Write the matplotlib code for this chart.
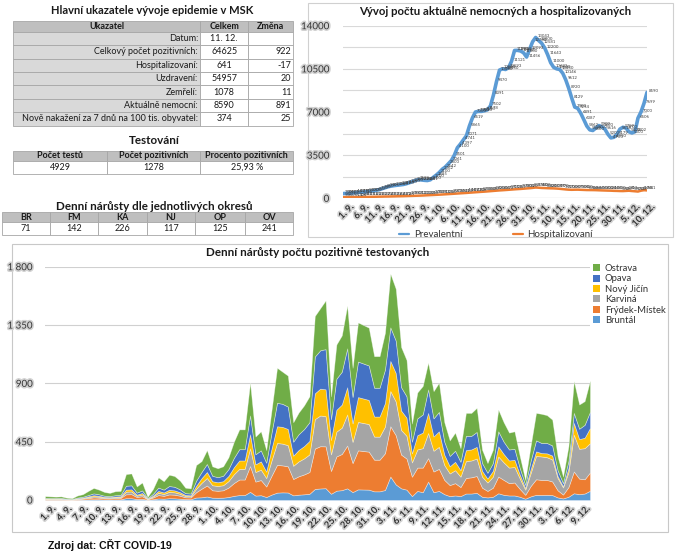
import datetime as dt
import matplotlib
matplotlib.use("Agg")
import matplotlib.pyplot as plt
import matplotlib.patheffects as pe
import matplotlib.transforms as mtransforms
from matplotlib.patches import Rectangle

FONT = ["Lato", "DejaVu Sans"]
plt.rcParams["font.family"] = FONT

# ---------------- data ----------------
main_title = "Hlavní ukazatele vývoje epidemie v MSK"
main_header = ["Ukazatel", "Celkem", "Změna"]
main_labels = ["Datum:", "Celkový počet pozitivních:", "Hospitalizovaní:", "Uzdravení:",
               "Zemřelí:", "Aktuálně nemocní:", "Nově nakažení za 7 dnů na 100 tis. obyvatel:"]
main_total = ["11. 12.", "64625", "641", "54957", "1078", "8590", "374"]
main_change = ["", "922", "-17", "20", "11", "891", "25"]

test_title = "Testování"
test_header = ["Počet testů", "Počet pozitivních", "Procento pozitivních"]
test_values = ["4929", "1278", "25,93 %"]

district_title = "Denní nárůsty dle jednotlivých okresů"
district_codes = ["BR", "FM", "KA", "NJ", "OP", "OV"]
district_values = ["71", "142", "226", "117", "125", "241"]

start_date = dt.date(2020, 9, 1)
n_days = 102
dates = [start_date + dt.timedelta(days=i) for i in range(n_days)]
date_labels = [f"{d.day}. {d.month}." for d in dates]

prevalent = [380, 398, 410, 430, 450, 477, 490, 510, 540, 570,
             600, 650, 700, 780, 860, 940, 990, 1030, 1060, 1089,
             1120, 1180, 1260, 1350, 1440, 1513, 1490, 1460, 1441, 1500,
             1700, 1885, 2100, 2362, 2542, 2800, 3061, 3501, 4100, 4397,
             4741, 5071, 5865, 6519, 7000, 7050, 7050, 7100, 7178, 7502,
             8391, 9470, 10400, 10500, 10450, 10593, 11121, 11993, 12000, 11950,
             11800, 11456, 12093, 12700, 13043, 12800, 12581, 12200, 11643, 11000,
             10621, 10500, 10450, 10146, 9612, 8920, 8129, 7400, 7294, 6891,
             6387, 5862, 5550, 5500, 5700, 5900, 5800, 5616, 5200, 4900,
             4950, 5179, 5614, 5759, 5700, 5400, 5300, 5402, 6506, 7000,
             7699, 8590]
hospitalized = [95, 96, 97, 99, 100, 104, 108, 110, 115, 118,
                123, 128, 133, 137, 144, 145, 153, 156, 164, 168,
                173, 181, 189, 196, 205, 212, 222, 232, 245, 258,
                270, 283, 295, 310, 325, 340, 356, 372, 389, 405,
                420, 436, 455, 472, 490, 508, 525, 540, 560, 580,
                600, 620, 640, 655, 672, 690, 710, 728, 745, 760,
                780, 801, 820, 845, 874, 860, 838, 830, 820, 810,
                804, 790, 770, 745, 720, 700, 690, 697, 700, 690,
                680, 670, 668, 666, 660, 650, 640, 632, 624, 618,
                605, 600, 590, 586, 600, 613, 590, 570, 548, 617,
                658, 641]

district_names = ["Bruntál", "Frýdek-Místek", "Karviná", "Nový Jičín", "Opava", "Ostrava"]
bruntal = [2, 2, 2, 2, 1, 1, 2, 3, 5, 6, 6, 4, 4, 5, 5, 14, 14, 7, 9, 2,
           6, 12, 10, 14, 13, 10, 7, 6, 19, 21, 27, 18, 17, 18, 23, 32, 38, 38, 63, 34,
           37, 23, 42, 57, 59, 58, 36, 41, 44, 48, 85, 89, 91, 48, 72, 76, 90, 61, 82, 81,
           80, 67, 67, 77, 181, 120, 90, 80, 30, 70, 60, 142, 60, 70, 45, 30, 35, 30, 50, 50,
           55, 25, 20, 25, 52, 40, 35, 35, 25, 10, 28, 40, 39, 40, 38, 20, 12, 25, 52, 45,
           50, 71]
frydek = [5, 4, 4, 4, 3, 2, 5, 7, 10, 14, 12, 9, 8, 10, 11, 30, 31, 16, 20, 4,
          13, 26, 22, 29, 28, 23, 14, 14, 41, 66, 85, 57, 54, 57, 73, 99, 120, 120, 199, 108,
          117, 81, 147, 214, 208, 202, 126, 142, 153, 168, 312, 326, 323, 176, 264, 279, 330, 224, 301, 297,
          293, 244, 244, 284, 388, 380, 260, 240, 150, 180, 190, 181, 160, 170, 110, 85, 95, 70, 120, 125,
          130, 70, 50, 70, 129, 115, 95, 100, 60, 30, 80, 120, 116, 115, 105, 55, 30, 75, 168, 120,
          110, 142]
karvina = [3, 3, 3, 3, 2, 2, 4, 4, 7, 9, 8, 6, 6, 7, 7, 20, 21, 10, 14, 3,
           8, 18, 14, 20, 18, 15, 10, 9, 27, 45, 58, 39, 37, 39, 50, 68, 82, 82, 136, 74,
           80, 65, 119, 169, 168, 163, 102, 115, 124, 136, 227, 237, 233, 128, 192, 203, 240, 163, 219, 216,
           213, 178, 178, 206, 272, 260, 190, 175, 110, 140, 150, 194, 160, 170, 115, 90, 100, 80, 130, 130,
           135, 85, 65, 85, 155, 135, 120, 120, 80, 40, 100, 180, 181, 175, 170, 95, 55, 115, 284, 230,
           240, 226]
novy_jicin = [2, 2, 2, 2, 1, 1, 3, 4, 6, 8, 6, 5, 4, 5, 6, 16, 16, 8, 11, 2,
              7, 14, 12, 16, 15, 12, 8, 7, 22, 36, 46, 31, 29, 31, 40, 54, 65, 65, 109, 59,
              64, 50, 91, 129, 129, 125, 78, 88, 95, 104, 199, 207, 207, 112, 168, 178, 210, 143, 192, 189,
              186, 155, 155, 181, 232, 220, 150, 140, 70, 110, 120, 155, 110, 120, 80, 55, 65, 50, 85, 85,
              90, 45, 30, 45, 78, 65, 55, 55, 30, 12, 30, 35, 26, 30, 30, 15, 8, 30, 91, 75,
              80, 117]
opava = [4, 4, 4, 5, 3, 2, 5, 7, 10, 14, 12, 9, 8, 10, 10, 30, 31, 16, 20, 4,
         13, 26, 22, 29, 28, 22, 14, 14, 40, 48, 62, 42, 39, 42, 53, 72, 87, 87, 145, 78,
         85, 69, 126, 181, 178, 173, 108, 122, 131, 144, 284, 296, 310, 160, 240, 254, 300, 204, 274, 270,
         266, 222, 222, 258, 259, 250, 180, 165, 90, 130, 140, 181, 140, 150, 100, 80, 85, 65, 110, 105,
         115, 60, 45, 60, 116, 95, 85, 85, 50, 25, 65, 85, 78, 80, 78, 45, 25, 55, 77, 80,
         100, 125]
ostrava = [14, 13, 11, 12, 8, 6, 16, 20, 32, 42, 36, 29, 25, 31, 31, 90, 92, 48, 61, 10,
           38, 79, 65, 87, 83, 68, 42, 40, 121, 84, 107, 73, 69, 73, 91, 125, 153, 153, 253, 137,
           147, 97, 175, 270, 248, 239, 150, 167, 183, 200, 313, 325, 376, 176, 264, 280, 330, 225, 302, 297,
           292, 244, 244, 284, 414, 400, 310, 280, 140, 200, 220, 207, 210, 225, 150, 120, 140, 105, 177, 177,
           186, 103, 75, 103, 168, 150, 130, 135, 91, 38, 117, 212, 225, 215, 200, 106, 51, 114, 246, 187,
           183, 241]
district_series = [bruntal, frydek, karvina, novy_jicin, opava, ostrava]
district_colors = ["#5B9BD5", "#ED7D31", "#A5A5A5", "#FFC000", "#4472C4", "#70AD47"]

source_text = "Zdroj dat: CŘT COVID-19"

# ---------------- figure ----------------
W, H = 680, 556
fig = plt.figure(figsize=(W / 100, H / 100), dpi=100)
ov = fig.add_axes([0, 0, 1, 1])
ov.set_xlim(0, W)
ov.set_ylim(H, 0)
ov.axis("off")

GRID_EDGE = "#a6a6a6"
HEAD_BG = "#bfbfbf"
LAB_BG = "#d9d9d9"
TXT = "#1a1a1a"
TFS = 6.5


def cell(x0, y0, x1, y1, fc):
    ov.add_patch(Rectangle((x0, y0), x1 - x0, y1 - y0, facecolor=fc,
                           edgecolor=GRID_EDGE, lw=0.6))


# --- table 1 ---
ov.text(152, 10, main_title, ha="center", va="center", fontsize=8.0, fontweight="bold", color=TXT)
c1 = [13.3, 200, 248.3, 293.3]
hy0, hy1 = 20.7, 31.7
for j in range(3):
    cell(c1[j], hy0, c1[j + 1], hy1, HEAD_BG)
    ov.text((c1[j] + c1[j + 1]) / 2, (hy0 + hy1) / 2, main_header[j], ha="center", va="center",
            fontsize=TFS, fontweight="bold", color=TXT)
rh = 13.43
for i in range(len(main_labels)):
    y0 = hy1 + i * rh
    y1 = y0 + rh
    cell(c1[0], y0, c1[1], y1, LAB_BG)
    cell(c1[1], y0, c1[2], y1, "white")
    cell(c1[2], y0, c1[3], y1, "white")
    ym = (y0 + y1) / 2
    ov.text(c1[1] - 2, ym, main_labels[i], ha="right", va="center", fontsize=TFS, color=TXT)
    ov.text((c1[1] + c1[2]) / 2, ym, main_total[i], ha="center", va="center", fontsize=TFS, color=TXT)
    ov.text(c1[3] - 2, ym, main_change[i], ha="right", va="center", fontsize=TFS, color=TXT)

# --- table 2 ---
ov.text(154, 140, test_title, ha="center", va="center", fontsize=8.4, fontweight="bold", color=TXT)
c2 = [13.3, 106.7, 200, 293.3]
for j in range(3):
    cell(c2[j], 151, c2[j + 1], 161, HEAD_BG)
    cell(c2[j], 161, c2[j + 1], 174.3, "white")
    ov.text((c2[j] + c2[j + 1]) / 2, 156, test_header[j], ha="center", va="center",
            fontsize=TFS, fontweight="bold", color=TXT)
    ov.text((c2[j] + c2[j + 1]) / 2, 167.6, test_values[j], ha="center", va="center",
            fontsize=TFS, color=TXT)

# --- table 3 ---
ov.text(154, 206.5, district_title, ha="center", va="center", fontsize=8.4, fontweight="bold", color=TXT)
c3 = [1.7, 50, 98.3, 146.7, 195, 245, 293.3]
for j in range(6):
    cell(c3[j], 212.3, c3[j + 1], 222.3, HEAD_BG)
    cell(c3[j], 222.3, c3[j + 1], 235, "white")
    ov.text((c3[j] + c3[j + 1]) / 2, 217.3, district_codes[j], ha="center", va="center",
            fontsize=TFS, fontweight="bold", color=TXT)
    ov.text((c3[j] + c3[j + 1]) / 2, 228.7, district_values[j], ha="center", va="center",
            fontsize=TFS, color=TXT)

# chart frames
ov.add_patch(Rectangle((308, 3), 673 - 308, 237 - 3, facecolor="none", edgecolor="#d0d0d0", lw=0.8))
ov.add_patch(Rectangle((11.7, 244), 668.3 - 11.7, 531.7 - 244, facecolor="none", edgecolor="#c8c8c8", lw=0.8))

shadow = [pe.Stroke(linewidth=2.4, foreground="#d2d2d2"), pe.Normal()]
AX_TXT = "#333333"

# ---------------- top-right line chart ----------------
ax1 = fig.add_axes([343 / W, 1 - 198.3 / H, 304 / W, (198.3 - 25.7) / H])
ax1.set_xlim(0, n_days - 1)
ax1.set_ylim(0, 14000)
ax1.set_facecolor("none")
for s in ax1.spines.values():
    s.set_visible(False)
yt = list(range(0, 14001, 1750))
ax1.set_yticks(yt)
ax1.set_yticklabels([str(v) if v % 3500 == 0 else "" for v in yt])
ax1.grid(axis="y", color="#d9d9d9", lw=0.8)
ax1.set_axisbelow(True)
ax1.tick_params(axis="y", length=0, pad=10, labelsize=7.0, labelcolor=AX_TXT)
xt = list(range(0, n_days - 1, 5))
ax1.set_xticks(xt)
ax1.set_xticklabels([date_labels[i] for i in xt], rotation=45, ha="right",
                    rotation_mode="anchor", fontsize=6.6, fontweight="bold", color=AX_TXT)
ax1.tick_params(axis="x", length=0, pad=3)
off = mtransforms.ScaledTranslation(6 / 100, 0, fig.dpi_scale_trans)
for lab in ax1.get_xticklabels():
    lab.set_transform(lab.get_transform() + off)
    lab.set_path_effects(shadow)
for lab in ax1.get_yticklabels():
    lab.set_path_effects(shadow)
ax1.axhline(0, color="#bfbfbf", lw=0.8)
days = list(range(n_days))
ln_p, = ax1.plot(days, prevalent, color="#5B9BD5", lw=2.6, solid_joinstyle="round",
                 solid_capstyle="round", label="Prevalentní", zorder=3)
ln_h, = ax1.plot(days, hospitalized, color="#ED7D31", lw=1.8, solid_joinstyle="round",
                 solid_capstyle="round", label="Hospitalizovaní", zorder=3)
for i in days:
    ax1.annotate(str(prevalent[i]), (i, prevalent[i]), xytext=(1.2, 1.0), textcoords="offset points",
                 fontsize=3.1, ha="left", va="center", color="#404040", zorder=4)
    ax1.annotate(str(hospitalized[i]), (i, hospitalized[i]), xytext=(1.2, 1.8), textcoords="offset points",
                 fontsize=3.1, ha="left", va="center", color="#404040", zorder=4)
ax1.set_title("Vývoj počtu aktuálně nemocných a hospitalizovaných", fontsize=8.2,
              fontweight="bold", color=TXT, pad=8)
leg1 = ax1.legend(handles=[ln_p, ln_h], loc="center", ncol=2, frameon=False,
                  bbox_to_anchor=(496 / W, 1 - 234.5 / H), bbox_transform=fig.transFigure,
                  fontsize=7.0, handlelength=1.0, columnspacing=5.2, handletextpad=0.5)
for t in leg1.get_texts():
    t.set_color(AX_TXT)
for h in leg1.legend_handles:
    h.set_linewidth(1.6)

# ---------------- bottom stacked area chart ----------------
ax2 = fig.add_axes([45 / W, 1 - 500 / H, 545 / W, 233.3 / H])
ax2.set_xlim(0, n_days - 1)
ax2.set_ylim(0, 1800)
ax2.set_facecolor("none")
for s in ax2.spines.values():
    s.set_visible(False)
yt2 = [0, 450, 900, 1350, 1800]
ax2.set_yticks(yt2)
ax2.set_yticklabels(["0", "450", "900", "1 350", "1 800"])
ax2.grid(axis="y", color="#d0d0d0", lw=0.8)
ax2.set_axisbelow(True)
ax2.tick_params(axis="y", length=0, pad=9, labelsize=7.0, labelcolor=AX_TXT)
xt2 = list(range(0, n_days - 1, 3))
ax2.set_xticks(xt2)
ax2.set_xticklabels([date_labels[i] for i in xt2], rotation=45, ha="right",
                    rotation_mode="anchor", fontsize=6.6, fontweight="bold", color=AX_TXT)
ax2.tick_params(axis="x", length=0, pad=3)
for lab in ax2.get_xticklabels():
    lab.set_transform(lab.get_transform() + off)
    lab.set_path_effects(shadow)
for lab in ax2.get_yticklabels():
    lab.set_path_effects(shadow)
polys = ax2.stackplot(days, *district_series, colors=district_colors, labels=district_names,
                      edgecolor=(1, 1, 1, 0.45), linewidth=0.5, zorder=2)
ax2.set_title("Denní nárůsty počtu pozitivně testovaných", fontsize=8.4,
              fontweight="bold", color=TXT, pad=8)
ax2.title.set_position(((318 - 45) / 545, 1))
handles = [Rectangle((0, 0), 1, 1, facecolor=c, edgecolor="none") for c in district_colors][::-1]
leg2 = ax2.legend(handles=handles, labels=district_names[::-1], loc="upper left",
                  bbox_to_anchor=(593 / W, 1 - 264 / H), bbox_transform=fig.transFigure,
                  frameon=False, fontsize=6.8, handlelength=0.75, handleheight=0.75,
                  handletextpad=0.5, labelspacing=0.15, borderaxespad=0, borderpad=0)
for t in leg2.get_texts():
    t.set_color(AX_TXT)

ov.text(48, 545, source_text, ha="left", va="center", fontsize=7.6, fontweight="bold",
        color="#111111", family=["Liberation Sans", "DejaVu Sans"])

fig.savefig("out.png", dpi=100)
